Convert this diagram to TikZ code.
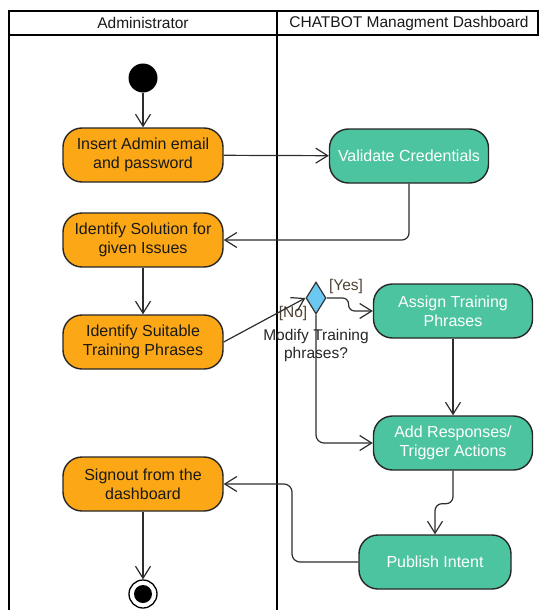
\documentclass[tikz,border=0pt]{standalone}
\usepackage{fontspec}
\setmainfont{Liberation Sans}
\usetikzlibrary{arrows.meta,shapes.geometric}
\definecolor{actorange}{RGB}{252,168,22}
\definecolor{actgreen}{RGB}{77,196,160}
\definecolor{decblue}{RGB}{108,200,240}
\definecolor{wire}{RGB}{45,45,45}
\definecolor{guard}{RGB}{80,66,50}
\tikzset{
  lane/.style={line width=2.4pt, black},
  activity/.style={draw=black!85, line width=1.4pt, rounded corners=19pt,
    minimum width=160pt, minimum height=54pt, align=center,
    font=\fontsize{16}{19}\selectfont},
  adminact/.style={activity, fill=actorange, text=black!90},
  sysact/.style={activity, fill=actgreen, text=white},
  flow/.style={draw=wire, line width=1.2pt,
    -{Straight Barb[length=12pt,width=15pt,line width=1.2pt]}},
  lanehead/.style={font=\fontsize{15.5}{18}\selectfont, text=black!90},
  guardlbl/.style={font=\fontsize{15.5}{18}\selectfont, text=guard},
}
\begin{document}
\begin{tikzpicture}[x=1pt,y=-1pt]
\useasboundingbox (0,0) rectangle (539,610);

% swimlane frame
\draw[lane] (9,610) -- (9,11) -- (539,11);
\draw[lane] (9,35) -- (539,35);
\draw[lane] (277,11) -- (277,610);
\draw[lane] (538,11) -- (538,35);
\node[lanehead] (laneA) at (143,23) {Administrator};
\node[lanehead] (laneB) at (409,23) {CHATBOT Managment Dashboard};

% initial and final states
\node[circle, fill=black, minimum size=29pt, inner sep=0pt] (start) at (143,78) {};
\node[circle, draw=black, line width=1.3pt, minimum size=28pt, inner sep=0pt] (end) at (143,594) {};
\node[circle, fill=black, minimum size=18pt, inner sep=0pt] (endcore) at (143,594) {};

% activities
\node[adminact] (insert) at (143,155) {Insert Admin email\\and password};
\node[sysact, minimum width=159pt] (validate) at (409,156) {Validate Credentials};
\node[adminact] (solution) at (143,240) {Identify Solution for\\given Issues};
\node[adminact] (suitable) at (143,342) {Identify Suitable\\Training Phrases};
\node[sysact, minimum width=159pt] (assign) at (453,311) {Assign Training\\Phrases};
\node[sysact, minimum width=159pt] (respond) at (453,443) {Add Responses/\\Trigger Actions};
\node[adminact] (signout) at (143,484) {Signout from the\\dashboard};
\node[sysact, minimum width=152pt] (publish) at (435,562) {Publish Intent};

% decision
\node[diamond, draw=black!80, line width=1.2pt, fill=decblue, inner sep=0pt,
      minimum width=20pt, minimum height=32pt, aspect=0.6] (dec) at (316,298) {};
\node[guardlbl] (yes) at (346,286) {[Yes]};
\node[guardlbl] (no) at (293,313) {[No]};
\coordinate (bend) at (292,484);

% flows
\draw[flow] (start) -- (insert);
\draw[flow] (insert) -- (validate);
\draw[flow, rounded corners=7pt] (validate.south) |- (solution.east);
\draw[flow] (solution) -- (suitable);
\draw[flow] (suitable.east) -- (dec.west);
\draw[flow, rounded corners=6pt] (dec.east) -- ++(22,0) |- (assign.west);
\draw[flow, rounded corners=8pt] (dec.south) |- (respond.west);
\draw[flow] (assign) -- (respond);
\draw[flow, rounded corners=7pt] (respond.south) -- ++(0,33) -| (publish.north);
\draw[flow, rounded corners=8pt] (publish.west) -| (bend) -- (signout.east);
\draw[flow] (signout) -- (end);

\node[font=\fontsize{15.5}{18}\selectfont, text=black!85, align=center] (declbl) at (316,345) {Modify Training\\phrases?};
\end{tikzpicture}
\end{document}
